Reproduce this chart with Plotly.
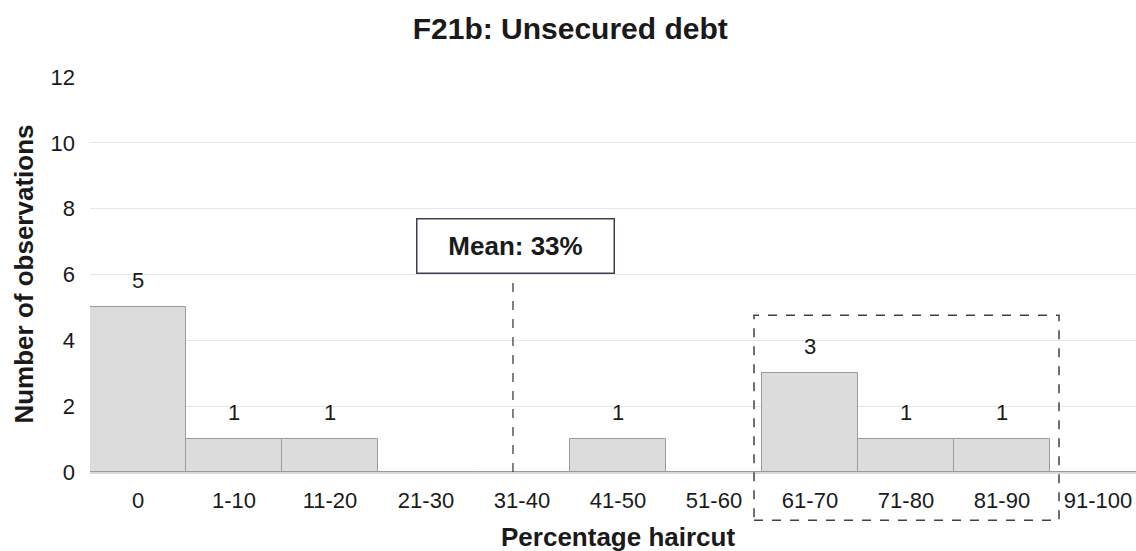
import plotly.graph_objects as go

categories = ["0", "1-10", "11-20", "21-30", "31-40", "41-50", "51-60",
              "61-70", "71-80", "81-90", "91-100"]
counts = [5, 1, 1, 0, 0, 1, 0, 3, 1, 1, 0]
y_ticks = [0, 2, 4, 6, 8, 10, 12]
mean_label = "Mean: 33%"
mean_pos = 3.906         # position of the mean marker on the category axis
highlight = ["61-70", "81-90"]

FONT = "Arial, Liberation Sans, sans-serif"
TXT = "#1a1a1a"

xs = list(range(len(categories)))

fig = go.Figure()
fig.add_trace(go.Bar(
    x=xs, y=counts, width=1.0,
    marker=dict(color="#DCDCDC", line=dict(color="#9A9A9A", width=1)),
    hoverinfo="skip", showlegend=False,
))

annotations = []
for x, v in zip(xs, counts):
    if v > 0:
        annotations.append(dict(
            x=x, y=v, xref="x", yref="y", text=str(v), showarrow=False,
            yanchor="bottom", yshift=12,
            font=dict(family=FONT, size=22, color=TXT)))

# mean box
annotations.append(dict(
    x=mean_pos + 0.025, y=6.87, xref="x", yref="y", text="<b>" + mean_label + "</b>",
    showarrow=False, xanchor="center", yanchor="middle",
    width=190, height=47,
    bgcolor="white", bordercolor="#3c4050", borderwidth=1.5, borderpad=3,
    font=dict(family=FONT, size=26, color=TXT)))

# axis titles
annotations.append(dict(
    x=-0.064, y=0.5, xref="paper", yref="paper", text="<b>Number of observations</b>",
    textangle=-90, showarrow=False, xanchor="center", yanchor="middle",
    font=dict(family=FONT, size=26, color=TXT)))
annotations.append(dict(
    x=0.505, y=-0.165, xref="paper", yref="paper", text="<b>Percentage haircut</b>",
    showarrow=False, xanchor="center", yanchor="middle",
    font=dict(family=FONT, size=26, color=TXT)))

i0 = categories.index(highlight[0])
i1 = categories.index(highlight[1])
shapes = [
    # mean dashed line
    dict(type="line", xref="x", yref="y", x0=mean_pos, x1=mean_pos, y0=0, y1=6.05,
         line=dict(color="#3c4050", width=1.3, dash="dash"), layer="above"),
    # highlight dashed box
    dict(type="rect", xref="x", yref="paper", x0=i0 - 0.583, x1=i1 + 0.594,
         y0=-0.122, y1=0.397,
         line=dict(color="#3c4050", width=1.5, dash="dash"), layer="above"),
]

fig.update_layout(
    width=1136, height=551,
    margin=dict(l=90, r=0, t=77, b=79),
    paper_bgcolor="white", plot_bgcolor="white",
    bargap=0,
    title=dict(text="<b>F21b: Unsecured debt</b>", x=0.502, xanchor="center",
               y=1 - 28 / 551, yanchor="middle",
               font=dict(family=FONT, size=30, color=TXT)),
    xaxis=dict(
        tickmode="array", tickvals=xs, ticktext=categories,
        range=[-0.5, 10.396], showgrid=False, zeroline=False,
        showline=True, linecolor="#D9D9D9", linewidth=1.5,
        ticks="", ticklabelstandoff=8, ticklabeloverflow="allow",
        tickfont=dict(family=FONT, size=22, color=TXT),
    ),
    yaxis=dict(
        range=[0, 12], tickvals=y_ticks, showgrid=True, gridcolor="#E6E6E6",
        gridwidth=1.2, zeroline=False, showline=False, ticks="",
        ticklabelstandoff=14,
        tickfont=dict(family=FONT, size=22, color=TXT),
    ),
    annotations=annotations,
    shapes=shapes,
)

fig.write_html("out.html",
               config={"displayModeBar": False},
               post_script="document.body.style.margin='0';document.body.style.overflow='hidden';")
